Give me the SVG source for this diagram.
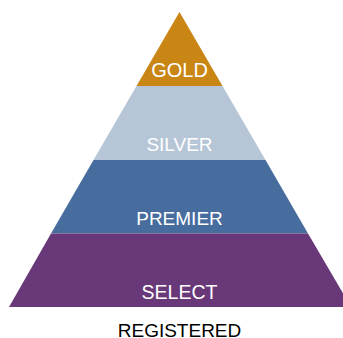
<svg xmlns="http://www.w3.org/2000/svg" width="343" height="338" viewBox="0 0 343 338">
<style>
text{font-family:"Liberation Sans",Arial,sans-serif;font-size:19px;text-anchor:middle;fill:#fff}
</style>
<rect width="343" height="338" fill="#fff"/>
<g id="gold"><polygon points="179.500,12 222.500,86 136.500,86" fill="#c98614"/><text x="179.500" y="77" style="font-size:20px">GOLD</text></g>
<g id="silver"><polygon points="136.500,86 222.500,86 265.500,160 93.500,160" fill="#b6c6d7"/><text x="179.500" y="151">SILVER</text></g>
<g id="premier"><polygon points="93.500,160 265.500,160 308,233.500 51,233.500" fill="#476c9e"/><text x="179.500" y="225">PREMIER</text></g>
<g id="select"><polygon points="51,233.500 308,233.500 351,307 9,307" fill="#693878"/><text x="179.500" y="299" style="font-size:19.500px">SELECT</text></g>
<g id="registered"><text x="179.500" y="337" style="fill:#000">REGISTERED</text></g>
<g id="connectors"/>
</svg>
